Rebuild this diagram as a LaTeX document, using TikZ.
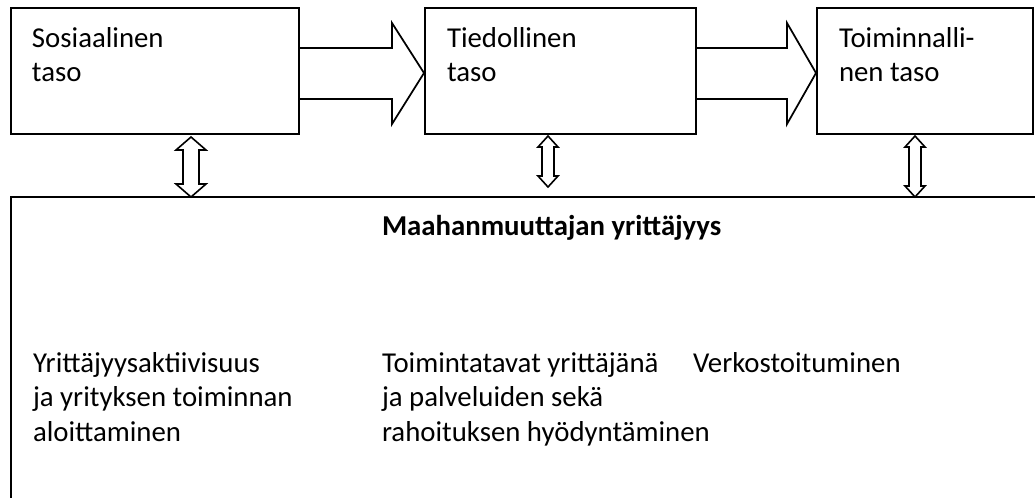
\documentclass[tikz,border=0pt]{standalone}
\usepackage{fontspec}
\setmainfont{Carlito}
\usetikzlibrary{fit,calc}
\tikzset{
  box/.style={draw=black, line width=0.75pt, fill=white, inner sep=0pt},
  blockarrow/.style={draw=black, line width=0.65pt, fill=white, line join=miter},
  dblarrow/.style={draw=black, line width=0.6pt, fill=white, line join=miter},
  txt/.style={anchor=base west, inner sep=0pt, outer sep=0pt, text=black, font=\fontsize{10.8pt}{13.1pt}\selectfont},
}
\newcommand{\DblArrow}[5]{% top, bottom, half head, half shaft, head length
  \draw[dblarrow] (#1) -- ++(#3,#5) -- ++(-#3+#4,0) -- ($(#2)+(#4,-#5)$) -- ++(#3-#4,0) -- (#2)
    -- ++(-#3,-#5) -- ++(#3-#4,0) -- ($(#1)+(-#4,#5)$) -- ++(-#3+#4,0) -- cycle;}
\newcommand{\Para}[1]{\parbox[t]{130pt}{\raggedright #1}}
\begin{document}
\begin{tikzpicture}[x=0.375pt, y=-0.375pt]
\useasboundingbox (0,0) rectangle (1035,497);
\clip (0,0) rectangle (1035,497);
\fill[white] (0,0) rectangle (1035,497);

% boxes
\node[box, fit={(11,8) (299,134)}] (b1) {};
\node[box, fit={(425,8) (696,134)}] (b2) {};
\node[box, fit={(817,8) (1033,134)}] (b3) {};
\node[box, fit={(11,197) (1070,530)}] (mb) {};

% texts of top boxes
\node[txt] (t1) at (32,47) {\Para{Sosiaalinen\\taso}};
\node[txt] (t2) at (447,47) {\Para{Tiedollinen\\taso}};
\node[txt] (t3) at (839,47) {\Para{Toiminnalli-\\nen taso}};

% big block arrows
\draw[blockarrow] ($(b1.east)+(0,-23)$) -- ($(b2.west)+(-32,-23)$) -- ($(b2.west)+(-32,-48)$)
  -- ($(b2.west)+(0,2)$) -- ($(b2.west)+(-32,53)$) -- ($(b2.west)+(-32,28)$) -- ($(b1.east)+(0,28)$);
\draw[blockarrow] ($(b2.east)+(0,-23)$) -- ($(b3.west)+(-29,-23)$) -- ($(b3.west)+(-29,-48)$)
  -- ($(b3.west)+(0,2)$) -- ($(b3.west)+(-29,53)$) -- ($(b3.west)+(-29,28)$) -- ($(b2.east)+(0,28)$);

% double arrows
\coordinate (a1t) at ($(b1.south -| 191,0)+(0,2)$);
\coordinate (a1b) at ($(mb.north -| 191,0)+(0,1)$);
\coordinate (a2t) at ($(b2.south -| 548,0)+(0,1)$);
\coordinate (a2b) at ($(mb.north -| 548,0)+(0,-9)$);
\coordinate (a3t) at ($(b3.south -| 915,0)+(0,1)$);
\coordinate (a3b) at ($(mb.north -| 915,0)+(0,1)$);
\DblArrow{a1t}{a1b}{15}{8}{13}
\DblArrow{a2t}{a2b}{10}{6}{11}
\DblArrow{a3t}{a3b}{10}{6}{11}

% big box texts
\node[txt, font=\fontsize{10.8pt}{13.1pt}\selectfont\bfseries] (head) at (382,235) {Maahanmuuttajan yrittäjyys};
\node[txt] (c1) at (33,372) {\Para{Yrittäjyysaktiivisuus\\ja yrityksen toiminnan\\aloittaminen}};
\node[txt] (c2) at (382,372) {\Para{Toimintatavat yrittäjänä\\ja palveluiden sekä\\rahoituksen hyödyntäminen}};
\node[txt] (c3) at (693,372) {\Para{Verkostoituminen}};
\end{tikzpicture}
\end{document}
